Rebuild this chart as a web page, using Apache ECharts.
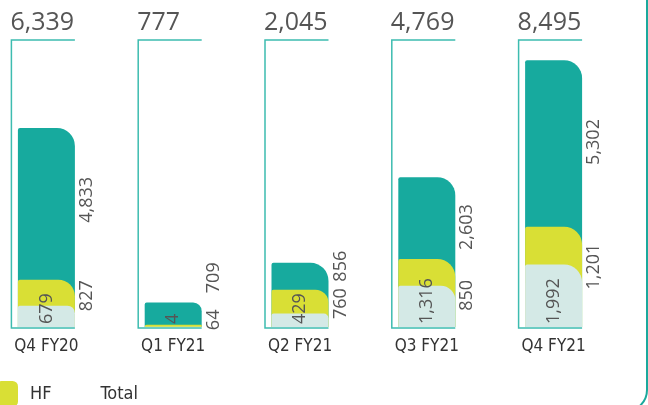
<!DOCTYPE html>
<html>
<head>
<meta charset="utf-8">
<script src="https://cdn.jsdelivr.net/npm/echarts@6/dist/echarts.min.js"></script>
<style>
	html, body { margin: 0; padding: 0; background: #fff; }
	#main { width: 648px; height: 405px; }
</style>
</head>
<body>
<div id="main"></div>
<script>
	// 各季度数据
	var categories = ['Q4 FY20', 'Q1 FY21', 'Q2 FY21', 'Q3 FY21', 'Q4 FY21'];
	var baseValues = [679, 4, 429, 1316, 1992];
	var hfValues = [827, 64, 760, 850, 1201];
	var otherValues = [4833, 709, 856, 2603, 5302];

	var TEAL = '#17aa9e',
		YELLOW = '#d9df35',
		LIGHT = '#d4e9e6',
		FRAME = '#3dbcb0',
		GREY = '#555';
	var NARROW = '"DejaVu Sans Condensed", "Liberation Sans Narrow", Roboto, sans-serif';

	function fmt(v) {
		return v.toLocaleString('en-US');
	};
	var cumHf = [], totals = [];
	for (var i = 0; i < categories.length; i++) {
		cumHf.push(baseValues[i] + hfValues[i]);
		totals.push(baseValues[i] + hfValues[i] + otherValues[i]);
	};
	// 圆角: 右上角随柱高变化
	function bars(vals) {
		return vals.map(function(v) {
			var r = Math.min(18, v * 0.011);
			return { value: v, itemStyle: { borderRadius: [2, r, 0, 0] } };
		});
	};
	// 标签微调 (旋转后坐标系)
	var hfShift = [-3, 6, -2, -23, -21];
	var otherShift = [4, 36, 10, -9, 1.5];
	function labelled(vals, shift) {
		return vals.map(function(v, i) {
			return { value: v, label: { offset: [shift[i], 0] } };
		});
	};

	var sideLabel = {
		show: true,
		position: 'right',
		distance: 3,
		rotate: 90,
		align: 'center',
		verticalAlign: 'top',
		color: GREY,
		fontSize: 18,
		fontFamily: 'Open Sans',
		formatter: function(p) { return fmt(p.value); }
	};

	var myChart = echarts.init(document.getElementById('main'));
	var option = {
		animation: false,
		graphic: [{
			type: 'rect',
			z: -1,
			shape: { x: -40, y: -40, width: 687, height: 451, r: 21 },
			style: { fill: 'none', stroke: '#1aa99c', lineWidth: 2 }
		}],
		legend: {
			left: -9,
			top: 376,
			itemWidth: 22,
			itemHeight: 26,
			itemGap: 15,
			icon: 'roundRect',
			textStyle: {
				color: '#333',
				fontSize: 18,
				fontFamily: NARROW,
				padding: [0, 0, 0, 7]
			},
			data: [{ name: 'HF' }, { name: 'Total', itemStyle: { opacity: 0 } }]
		},
		grid: {
			left: -17,
			right: 31,
			top: 40,
			bottom: 78,
			outerBoundsMode: 'none'
		},
		xAxis: {
			type: 'category',
			data: categories,
			axisLine: { show: false },
			axisTick: { show: false },
			axisLabel: {
				margin: 11,
				color: '#333',
				fontSize: 17,
				fontFamily: NARROW
			}
		},
		yAxis: {
			type: 'value',
			min: 0,
			max: 9140,
			show: false,
			splitLine: { show: false }
		},
		series: [{
			name: 'Total',
			type: 'custom',
			silent: true,
			itemStyle: { color: FRAME },
			data: totals.map(function(t, i) { return [i, t]; }),
			renderItem: function(params, api) {
				var p = api.coord([api.value(0), 0]);
				var left = p[0] - 35, right = p[0] + 28.5;
				var top = params.coordSys.y, bottom = p[1] + 1;
				return {
					type: 'group',
					children: [{
						type: 'polyline',
						shape: { points: [[right, top], [left, top], [left, bottom], [right, bottom]] },
						style: { stroke: FRAME, lineWidth: 1.5, fill: null }
					}, {
						type: 'text',
						x: left - 1,
						y: top - 5,
						style: {
							text: fmt(api.value(1)),
							fill: GREY,
							font: '25px "Open Sans"',
							textAlign: 'left',
							textVerticalAlign: 'bottom'
						}
					}]
				};
			}
		}, {
			name: 'Other',
			type: 'bar',
			barWidth: 57,
			barGap: '-100%',
			itemStyle: { color: TEAL },
			data: bars(totals)
		}, {
			name: 'HF',
			type: 'bar',
			barWidth: 57,
			barGap: '-100%',
			itemStyle: { color: YELLOW },
			data: bars(cumHf)
		}, {
			name: 'Base',
			type: 'bar',
			barWidth: 57,
			barGap: '-100%',
			itemStyle: { color: LIGHT },
			label: {
				show: true,
				position: 'insideBottom',
				distance: 3,
				rotate: 90,
				align: 'left',
				verticalAlign: 'middle',
				color: GREY,
				fontSize: 18,
				fontFamily: 'Open Sans',
				formatter: function(p) { return fmt(p.value); }
			},
			data: bars(baseValues)
		}, {
			name: 'lblBase',
			type: 'bar',
			stack: 'lbl',
			silent: true,
			barWidth: 57,
			barGap: '-100%',
			itemStyle: { color: 'rgba(0,0,0,0)' },
			data: baseValues
		}, {
			name: 'lblHF',
			type: 'bar',
			stack: 'lbl',
			silent: true,
			barWidth: 57,
			barGap: '-100%',
			itemStyle: { color: 'rgba(0,0,0,0)' },
			label: sideLabel,
			data: labelled(hfValues, hfShift)
		}, {
			name: 'lblOther',
			type: 'bar',
			stack: 'lbl',
			silent: true,
			barWidth: 57,
			barGap: '-100%',
			itemStyle: { color: 'rgba(0,0,0,0)' },
			label: sideLabel,
			data: labelled(otherValues, otherShift)
		}]
	};
	myChart.setOption(option);
</script>
</body>
</html>
